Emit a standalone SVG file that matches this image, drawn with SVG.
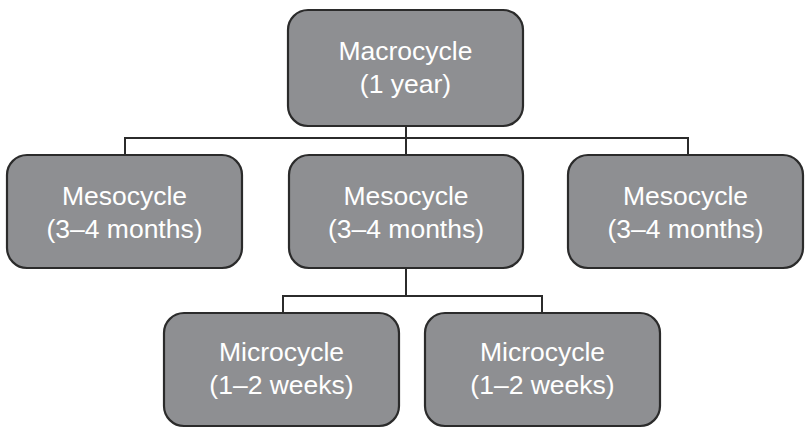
<svg xmlns="http://www.w3.org/2000/svg" width="805" height="428" viewBox="0 0 805 428">
<style>
.box{fill:#8e8f92;stroke:#2b2b2b;stroke-width:2.2}
.t{font-family:"Liberation Sans",Arial,sans-serif;font-size:26.5px;fill:#ffffff;text-anchor:middle}
.c{fill:none;stroke:#2b2b2b;stroke-width:2}
</style>
<rect width="805" height="428" fill="#ffffff"/>
<g id="connectors">
<path class="c" d="M406 126V138M125 155V138H688V155M406 138V155"/>
<path class="c" d="M406 268V296M283 313V296H542V313"/>
</g>
<g id="macro">
<rect class="box" x="288" y="10" width="235" height="116" rx="20"/>
<text class="t" x="405.5" y="60">Macrocycle</text>
<text class="t" x="405.5" y="93">(1 year)</text>
</g>
<g id="meso1">
<rect class="box" x="7" y="155" width="235" height="113" rx="20"/>
<text class="t" x="124.5" y="205">Mesocycle</text>
<text class="t" x="124.5" y="238">(3–4 months)</text>
</g>
<g id="meso2">
<rect class="box" x="289" y="155" width="234" height="113" rx="20"/>
<text class="t" x="406" y="205">Mesocycle</text>
<text class="t" x="406" y="238">(3–4 months)</text>
</g>
<g id="meso3">
<rect class="box" x="568" y="155" width="235" height="113" rx="20"/>
<text class="t" x="685.5" y="205">Mesocycle</text>
<text class="t" x="685.5" y="238">(3–4 months)</text>
</g>
<g id="micro1">
<rect class="box" x="164" y="313" width="235" height="113" rx="20"/>
<text class="t" x="281.5" y="361">Microcycle</text>
<text class="t" x="281.5" y="394">(1–2 weeks)</text>
</g>
<g id="micro2">
<rect class="box" x="425" y="313" width="235" height="113" rx="20"/>
<text class="t" x="542.5" y="361">Microcycle</text>
<text class="t" x="542.5" y="394">(1–2 weeks)</text>
</g>
</svg>
